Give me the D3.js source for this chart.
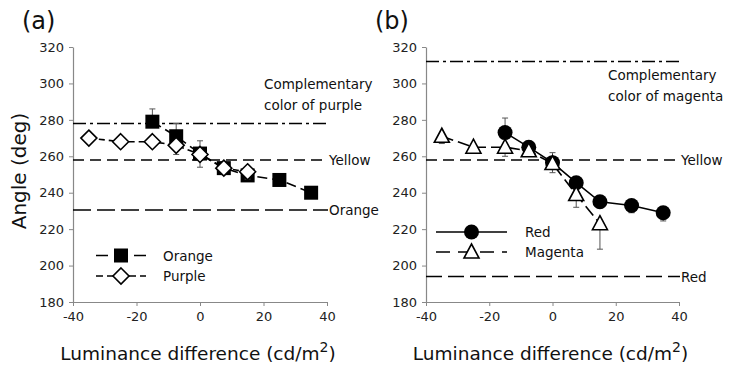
<!DOCTYPE html>
<html><head><meta charset="utf-8">
<script src="https://cdn.jsdelivr.net/npm/d3@7"></script>
<style>body{margin:0;background:#fff}svg{display:block}text{font-family:"DejaVu Sans",Verdana,sans-serif}</style>
</head><body><svg id="c" width="731" height="367"></svg>
<script>
// ---- data ----
const xTicks = [-40, -20, 0, 20, 40];
const yTicks = [180, 200, 220, 240, 260, 280, 300, 320];

const orangeX = [-15, -7.5, 0, 7.5, 15, 25, 35];
const orangeY = [279, 271, 261.5, 253.5, 249.5, 247, 240];
const orangeErrUp = [7, 7, 7, 2, 2, 1, 1];
const orangeErrDown = [0, 0, 0, 0, 0, 0, 0];

const purpleX = [-35, -25, -15, -7.5, 0, 7.5, 15];
const purpleY = [270, 268, 268, 266, 261, 253.5, 251.5];
const purpleErrUp = [0, 0, 0, 0, 0, 0, 0];
const purpleErrDown = [1, 1, 1, 5, 7, 3, 4];

const redX = [-15, -7.5, 0, 7.5, 15, 25, 35];
const redY = [273, 265, 256.5, 245.5, 235, 233, 229];
const redErrUp = [8, 2, 3, 1, 1, 1, 1];
const redErrDown = [1, 1, 3, 2, 3, 4, 4.5];

const magentaX = [-35, -25, -15, -7.5, 0, 7.5, 15];
const magentaY = [271, 265, 265, 263, 256, 239, 223];
const magentaErrUp = [0, 0, 0, 0, 6, 0, 0];
const magentaErrDown = [4, 3, 5, 2, 5, 7, 14];

const refA = [
  {v: 278, label: ["Complementary", "color of purple"], dash: "13,4,3,4"},
  {v: 258, label: ["Yellow"], dash: "11,6"},
  {v: 230.5, label: ["Orange"], dash: "18,6"}
];
const refB = [
  {v: 312, label: ["Complementary", "color of magenta"], dash: "13,4,3,4"},
  {v: 258, label: ["Yellow"], dash: "11,6"},
  {v: 194, label: ["Red"], dash: "16,6"}
];

// ---- drawing ----
const svg = d3.select("#c");
const plotTop = 47, plotBottom = 302;

function zip(xs, ys, up, dn) { return xs.map((x, i) => ({x, y: ys[i], up: up[i], dn: dn[i]})); }

function marker(g, type, cx, cy) {
  if (type === "square") {
    g.append("rect").attr("x", cx - 7).attr("y", cy - 7).attr("width", 14).attr("height", 14).attr("fill", "#000");
  } else if (type === "diamond") {
    g.append("path").attr("d", `M${cx},${cy-8}L${cx+8},${cy}L${cx},${cy+8}L${cx-8},${cy}Z`)
      .attr("fill", "#fff").attr("stroke", "#000").attr("stroke-width", 1.6);
  } else if (type === "circle") {
    g.append("circle").attr("cx", cx).attr("cy", cy).attr("r", 7.5).attr("fill", "#000");
  } else if (type === "triangle") {
    g.append("path").attr("d", `M${cx},${cy-8}L${cx+7.5},${cy+6}L${cx-7.5},${cy+6}Z`)
      .attr("fill", "#fff").attr("stroke", "#000").attr("stroke-width", 1.6);
  }
}

function panel(opt) {
  const x = d3.scaleLinear().domain([-40, 40]).range([opt.x0, opt.x1]);
  const y = d3.scaleLinear().domain([180, 320]).range([plotBottom, plotTop]);
  const g = svg.append("g");
  const fmt = d => String(d);

  // axes
  const ya = g.append("g").attr("transform", `translate(${opt.x0},0)`)
    .call(d3.axisLeft(y).tickValues(yTicks).tickFormat(fmt).tickSize(4).tickPadding(5).tickSizeOuter(0));
  const xa = g.append("g").attr("transform", `translate(0,${plotBottom})`)
    .call(d3.axisBottom(x).tickValues(xTicks).tickFormat(fmt).tickSize(4).tickPadding(6).tickSizeOuter(0));
  [ya, xa].forEach(a => {
    a.select(".domain").attr("stroke", "#888").attr("stroke-width", 1.2);
    a.selectAll(".tick line").attr("stroke", "#888");
    a.selectAll("text").attr("font-size", 13).attr("fill", "#222").attr("font-family", "DejaVu Sans, Verdana, sans-serif");
  });

  // reference lines
  opt.refs.forEach(r => {
    g.append("line").attr("x1", opt.x0).attr("x2", x(40) + 1).attr("y1", y(r.v)).attr("y2", y(r.v))
      .attr("stroke", "#000").attr("stroke-width", 1.6).attr("stroke-dasharray", r.dash);
    if (r.label.length === 1) {
      g.append("text").attr("x", x(40) + 2).attr("y", y(r.v) + 5).attr("font-size", 13.5).attr("fill", "#111").text(r.label[0]);
    }
  });
  const comp = opt.refs[0];
  g.append("text").attr("x", opt.compX).attr("y", opt.compY).attr("font-size", 13.5).attr("fill", "#111").text(comp.label[0]);
  g.append("text").attr("x", opt.compX).attr("y", opt.compY + 21).attr("font-size", 13.5).attr("fill", "#111").text(comp.label[1]);

  // series
  opt.series.forEach(s => {
    const pts = zip(s.x, s.y, s.up, s.dn);
    pts.forEach(p => {
      if (p.up > 0) {
        g.append("line").attr("x1", x(p.x)).attr("x2", x(p.x)).attr("y1", y(p.y)).attr("y2", y(p.y + p.up)).attr("stroke", "#555").attr("stroke-width", 1);
        g.append("line").attr("x1", x(p.x) - 3).attr("x2", x(p.x) + 3).attr("y1", y(p.y + p.up)).attr("y2", y(p.y + p.up)).attr("stroke", "#555").attr("stroke-width", 1);
      }
      if (p.dn > 0) {
        g.append("line").attr("x1", x(p.x)).attr("x2", x(p.x)).attr("y1", y(p.y)).attr("y2", y(p.y - p.dn)).attr("stroke", "#555").attr("stroke-width", 1);
        g.append("line").attr("x1", x(p.x) - 3).attr("x2", x(p.x) + 3).attr("y1", y(p.y - p.dn)).attr("y2", y(p.y - p.dn)).attr("stroke", "#555").attr("stroke-width", 1);
      }
    });
    g.append("path").datum(pts)
      .attr("d", d3.line().x(d => x(d.x)).y(d => y(d.y)))
      .attr("fill", "none").attr("stroke", "#000").attr("stroke-width", 1.6)
      .attr("stroke-dasharray", s.dash);
    pts.forEach(p => marker(g, s.marker, x(p.x), y(p.y)));
  });

  // legend
  opt.series.forEach((s, i) => {
    const ly = opt.legY + i * opt.legGap;
    g.append("line").attr("x1", opt.legX0).attr("x2", opt.legX1).attr("y1", ly).attr("y2", ly)
      .attr("stroke", "#000").attr("stroke-width", 1.6).attr("stroke-dasharray", s.legDash);
    marker(g, s.marker, (opt.legX0 + opt.legX1) / 2, ly);
    g.append("text").attr("x", opt.legText).attr("y", ly + 5).attr("font-size", 13.5).attr("fill", "#111").text(s.name);
  });

  // panel letter
  g.append("text").attr("x", opt.x0 - 51).attr("y", 29).attr("font-size", 24).attr("fill", "#111").text(opt.letter);

  // x label
  const xl = g.append("text").attr("x", (opt.x0 + opt.x1) / 2 - 2).attr("y", 360).attr("text-anchor", "middle")
    .attr("font-size", 18.5).attr("fill", "#111");
  xl.append("tspan").text("Luminance difference (cd/m");
  xl.append("tspan").attr("dy", -8).attr("font-size", 14).text("2");
  xl.append("tspan").attr("dy", 8).text(")");
}

panel({
  x0: 73, x1: 327, letter: "(a)", refs: refA, compX: 264, compY: 89,
  legX0: 96, legX1: 146, legText: 163, legY: 255.5, legGap: 20.5,
  series: [
    {name: "Orange", x: orangeX, y: orangeY, up: orangeErrUp, dn: orangeErrDown, marker: "square", dash: "10,5", legDash: "12,7"},
    {name: "Purple", x: purpleX, y: purpleY, up: purpleErrUp, dn: purpleErrDown, marker: "diamond", dash: "6,4", legDash: "7,4"}
  ]
});
panel({
  x0: 426, x1: 679, letter: "(b)", refs: refB, compX: 608, compY: 80,
  legX0: 436, legX1: 507, legText: 525, legY: 232, legGap: 20,
  series: [
    {name: "Red", x: redX, y: redY, up: redErrUp, dn: redErrDown, marker: "circle", dash: null, legDash: null},
    {name: "Magenta", x: magentaX, y: magentaY, up: magentaErrUp, dn: magentaErrDown, marker: "triangle", dash: "12,5", legDash: "14,8"}
  ]
});

// y label
svg.append("text").attr("transform", "translate(26,171) rotate(-90)").attr("text-anchor", "middle")
  .attr("font-size", 20).attr("fill", "#111").text("Angle (deg)");
</script></body></html>
